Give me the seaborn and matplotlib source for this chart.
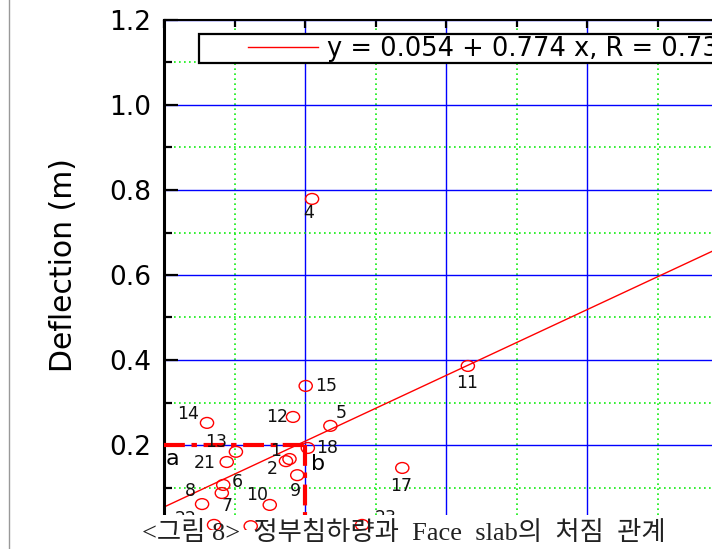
import numpy as np
import pandas as pd
import matplotlib
matplotlib.use("Agg")
import matplotlib.pyplot as plt
import seaborn as sns
from matplotlib.path import Path
from matplotlib.transforms import Affine2D
from matplotlib.lines import Line2D
from matplotlib.patches import Rectangle
from matplotlib.legend_handler import HandlerLine2D

# Survey points: crest settlement (m) against face slab deflection (m)
point_ids = ["1", "2", "4", "5", "6", "7", "8", "9", "10", "11", "12",
             "13", "14", "15", "17", "18", "21", "22", "23", ""]
settlement = [0.178, 0.173, 0.210, 0.236, 0.084, 0.082, 0.054, 0.189, 0.150,
              0.431, 0.183, 0.102, 0.061, 0.201, 0.338, 0.204, 0.089, 0.071,
              0.281, 0.123]
deflection = [0.167, 0.162, 0.779, 0.245, 0.106, 0.087, 0.061, 0.129, 0.059,
              0.386, 0.266, 0.184, 0.252, 0.339, 0.146, 0.193, 0.160, 0.012,
              0.012, 0.009]

# Linear fit reported in the legend
intercept = 0.054
slope = 0.774
r_value = 0.73

# Reference settlement / deflection marked with the dash-dot guides
ref_settlement = 0.2
ref_deflection = 0.2

y_ticks = [0.2, 0.4, 0.6, 0.8, 1.0, 1.2]
y_label = "Deflection (m)"
caption = "<그림 8>  정부침하량과  Face  slab의  처짐  관계"

# label offsets (pixels) from each marker
label_dx = [-14, -14, -3, 11, 14, 5, -12, -2, -13, -1, -16, -20, -19, 20, -1, 19, -22, -28, 24, 0]
label_dy = [8, -8, -14, 13, 3, -13, 13, -16, 10, -17, 0, 10, 9, 0, -18, 0, -1, 6, 7, 0]

df = pd.DataFrame({"id": point_ids, "settlement": settlement, "deflection": deflection})

W, H = 712, 549
fig = plt.figure(figsize=(W / 100, H / 100), dpi=100)
fig.patch.set_facecolor("white")

x0, x1 = 164, 728      # pixel extent of the plot frame (x 0 .. 0.8)
y_top, y_zero = 20, 530  # pixel rows of y = 1.2 and y = 0
ax = fig.add_axes([x0 / W, (H - y_zero) / H, (x1 - x0) / W, (y_zero - y_top) / H])
ax.set_zorder(0)
ax.set_xlim(0, 0.8)
ax.set_ylim(0, 1.2)

# grid: blue solid majors, green dotted minors
ax.set_xticks(np.arange(0, 0.81, 0.2))
ax.set_xticks(np.arange(0.1, 0.8, 0.2), minor=True)
ax.set_yticks(y_ticks)
ax.set_yticklabels([f"{v:.1f}" for v in y_ticks])
ax.set_yticks(np.arange(0.1, 1.2, 0.2), minor=True)
ax.grid(which="major", color="#0000ff", lw=1.0, ls="-")
ax.grid(which="minor", color="#11ee11", lw=1.2, ls=(0, (1, 2)))

ax.tick_params(axis="y", which="major", direction="in", length=10, width=1.6,
               labelsize=19, pad=9, left=True, right=False)
ax.tick_params(axis="y", which="minor", direction="in", length=6, width=1.6,
               left=True, right=False)
ax.tick_params(axis="x", which="major", direction="in", length=6, width=1.6,
               top=True, bottom=False, labelbottom=False, labeltop=False)
ax.tick_params(axis="x", which="minor", direction="in", length=5, width=1.6,
               top=True, bottom=False)
ax.spines["left"].set_linewidth(2.2)
ax.spines["top"].set_linewidth(1.5)
ax.spines["right"].set_linewidth(1.5)
ax.spines["bottom"].set_linewidth(1.5)

ax.set_ylabel(y_label, fontsize=21.5)
ax.yaxis.set_label_coords(-0.152, 0.52)

# regression line across the full settlement range
fit_x = np.array([0.0, 0.8])
fit_y = intercept + slope * fit_x
fit_label = f"y = {intercept:.3f} + {slope:.3f} x, R = {r_value:.2f}"
sns.lineplot(x=fit_x, y=fit_y, ax=ax, color="#ff0000", lw=1.0, label=fit_label)

# dash-dot guides at the reference settlement / deflection
guide_style = dict(color="#ff0000", lw=3.0, ls=(0, (5, 1.6, 1.3, 1.6)), zorder=3)
ax.plot([0, ref_settlement], [ref_deflection, ref_deflection], **guide_style)
ax.plot([ref_settlement, ref_settlement], [ref_deflection, 0], **guide_style)
ax.annotate("a", xy=(0, ref_deflection), xytext=(8, -14), textcoords="offset pixels",
            fontsize=16, ha="center", va="center", annotation_clip=False, clip_on=True)
ax.annotate("b", xy=(ref_settlement, ref_deflection), xytext=(13, -19),
            textcoords="offset pixels", fontsize=16, ha="center", va="center",
            annotation_clip=False, clip_on=True)

# point numbers
for pid, sx, dy_, ddx, ddy in zip(point_ids, settlement, deflection, label_dx, label_dy):
    if not pid:
        continue
    ax.annotate(pid, xy=(sx, dy_), xytext=(ddx, ddy), textcoords="offset pixels",
                fontsize=12.5, color="#111111", ha="center", va="center",
                annotation_clip=False, clip_on=True)

# legend box holding the fit equation
fs = 18.5
leg = ax.legend(loc="upper left", bbox_to_anchor=(0.062, 0.972), fontsize=fs,
                frameon=True, fancybox=False, framealpha=1, edgecolor="black",
                borderpad=0.05, borderaxespad=0, handlelength=4.6, handletextpad=0.33,
                handler_map={Line2D: HandlerLine2D(xpad=1.87)})
leg.get_frame().set_linewidth(1.6)

# strip along the bottom that holds the caption
fig.add_artist(Rectangle((0, 0), 1, (H - 515) / H, transform=fig.transFigure,
                         facecolor="white", edgecolor="none", zorder=1))

# markers sit in a transparent overlay so they can reach into the caption strip
ax2 = fig.add_axes(ax.get_position())
ax2.set_zorder(2)
ax2.patch.set_alpha(0)
ax2.set_xlim(ax.get_xlim())
ax2.set_ylim(ax.get_ylim())
ax2.axis("off")
ellipse = Affine2D().scale(1.0, 0.82).transform_path(Path.unit_circle())
sns.scatterplot(data=df, x="settlement", y="deflection", ax=ax2, marker=ellipse,
                s=90, facecolor="none", edgecolor="#ff0000", linewidth=1.0, legend=False)

fig.text(404 / W, (H - 533) / H, caption, ha="center", va="center", fontsize=19,
         family=["Liberation Serif", "Noto Sans CJK KR"], color="#222222", zorder=3)

# page border on the left
fig.add_artist(Line2D([9 / W, 9 / W], [0, 1], transform=fig.transFigure,
                      color="#999999", lw=1.0, zorder=4))

fig.savefig("out.png", dpi=100, facecolor="white")
